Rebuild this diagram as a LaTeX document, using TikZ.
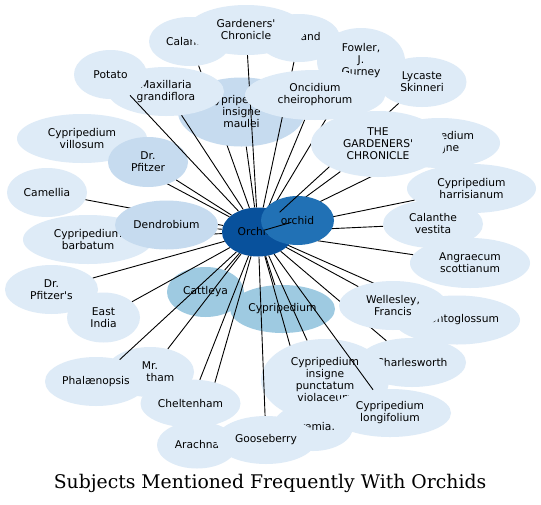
\documentclass[tikz,border=0pt]{standalone}
\usepackage{fontspec}
\setmainfont{DejaVu Sans}[Ligatures=TeXOff]
\newfontfamily\titlefont{DejaVu Serif}
\usetikzlibrary{shapes.geometric}
\definecolor{bA}{HTML}{DEEBF7}
\definecolor{bB}{HTML}{C6DBEF}
\definecolor{bC}{HTML}{9ECAE1}
\definecolor{bD}{HTML}{2171B5}
\definecolor{bE}{HTML}{08519C}
\tikzset{
  nd/.style={ellipse, inner sep=0pt, align=center, text=black,
    font=\fontsize{10.7}{12}\selectfont},
  lA/.style={nd, fill=bA},
  lB/.style={nd, fill=bB},
  lC/.style={nd, fill=bC},
  lD/.style={nd, fill=bD},
  lE/.style={nd, fill=bE},
  ghost/.style={ellipse, inner sep=0pt},
  link/.style={draw=black, line width=0.9pt},
  sz/.style 2 args={minimum width=#1pt, minimum height=#2pt}
}
\begin{document}
\begin{tikzpicture}[x=1pt,y=-1pt]
\fill[white] (0,0) rectangle (541,504);
\useasboundingbox (0,0) rectangle (541,504);

% hub
\node[lE, sz={72}{49}] (orchids) at (258,232) {Orchids};
% phantom shape of THE GARDENERS' CHRONICLE (for its connector under 'orchid')
\node[ghost, sz={134}{66}] (tgcshape) at (378,144) {};

\node[lC, sz={77}{50}] (cattleya) at (205.5,292) {Cattleya};
\draw[link] (orchids) -- (cattleya);
\node[lC, sz={105}{48}] (cyp) at (282.5,309) {Cypripedium};
\draw[link] (orchids) -- (cyp);

\node[lA, sz={80}{49}] (camellia) at (47,192.5) {Camellia};
\draw[link] (orchids) -- (camellia);
\node[lA, sz={130}{49}] (barbatum) at (88,239.5) {Cypripedium\\barbatum};
\draw[link] (orchids) -- (barbatum);
\node[lB, sz={103}{49}] (dendro) at (166.5,225) {Dendrobium};
\draw[link] (orchids) -- (dendro);

\node[lA, sz={130}{49}] (villosum) at (82,138.5) {Cypripedium\\villosum};
\draw[link] (orchids) -- (villosum);
\node[lB, sz={80}{50}] (pfitzer) at (148,162) {Dr.\\Pfitzer};
\draw[link] (orchids) -- (pfitzer);

\node[lA, sz={93}{49}] (pfitzers) at (51.5,289.5) {Dr.\\Pfitzer's};
\draw[link] (orchids) -- (pfitzers);
\node[lA, sz={73}{50}] (eastindia) at (103.5,317.5) {East\\India};
\draw[link] (orchids) -- (eastindia);

\node[lA, sz={88}{50}] (bentham) at (150,372) {Mr.\\Bentham};
\draw[link] (orchids) -- (bentham);
\node[lA, sz={102}{49}] (phal) at (96,381.5) {Phalænopsis};
\draw[link] (orchids) -- (phal);

\node[lA, sz={80}{47}] (arachna) at (197,445) {Arachna};
\draw[link] (orchids) -- (arachna);
\node[lA, sz={100}{48}] (chelt) at (190.5,403.5) {Cheltenham};
\draw[link] (orchids) -- (chelt);

\node[lA, sz={80}{48}] (jeremia) at (313,427) {Jeremia.};
\draw[link] (orchids) -- (jeremia);
\node[lA, sz={108}{49}] (charles) at (412,362.5) {Charlesworth};
\draw[link] (orchids) -- (charles);
\node[lA, sz={128}{82}] (punct) at (325,380) {Cypripedium\\insigne\\punctatum\\violaceum};
\draw[link] (orchids) -- (punct);
\node[lA, sz={122}{48}] (longi) at (390,413) {Cypripedium\\longifolium};
\draw[link] (orchids) -- (longi);
\node[lA, sz={100}{48}] (goose) at (266,440) {Gooseberry};
\draw[link] (orchids) -- (goose);

\node[lA, sz={126}{49}] (odonto) at (457,320) {Odontoglossum};
\draw[link] (orchids) -- (odonto);
\node[lA, sz={108}{49}] (wellesley) at (393,305.5) {Wellesley,\\Francis};
\draw[link] (orchids) -- (wellesley);

\node[lA, sz={82}{49}] (calanthe) at (190,41.5) {Calanthe};
\draw[link] (orchids) -- (calanthe);
\node[lB, sz={127}{69}] (maulei) at (241.5,112) {Cypripedium\\insigne\\maulei};
\draw[link] (orchids) -- (maulei);
\node[lA, sz={82}{48}] (england) at (299,38) {England};
\draw[link] (orchids) -- (england);
\node[lA, sz={88}{66}] (fowler) at (361,61) {Fowler,\\J.\\Gurney};
\draw[link] (orchids) -- (fowler);
\node[lA, sz={118}{50}] (gchron) at (246,30) {Gardeners'\\Chronicle};
\draw[link] (orchids) -- (gchron);
\node[lA, sz={116}{49}] (maxill) at (166,91.5) {Maxillaria\\grandiflora};
\draw[link] (orchids) -- (maxill);
\node[lA, sz={73}{49}] (potato) at (110.5,74.5) {Potato};
\draw[link] (orchids) -- (potato);
\node[lA, sz={140}{50}] (oncid) at (315,95) {Oncidium\\cheirophorum};
\draw[link] (orchids) -- (oncid);

\node[lA, sz={120}{50}] (angrae) at (470,263) {Angraecum\\scottianum};
\draw[link] (orchids) -- (angrae);
\node[lA, sz={100}{48}] (vestita) at (433,224) {Calanthe\\vestita};
\draw[link] (orchids) -- (vestita);
\node[lA, sz={129}{49}] (harris) at (471.5,188.5) {Cypripedium\\harrisianum};
\draw[link] (orchids) -- (harris);
\node[lA, sz={120}{50}] (insigne) at (440,143) {Cypripedium\\insigne};
\draw[link] (orchids) -- (insigne);
\draw[link] (orchids) -- (tgcshape);

\node[lD, sz={73}{49}] (orchid) at (297.5,220.5) {orchid};
\draw[link] (orchids) -- (orchid);

\node[lA, sz={89}{50}] (lycaste) at (422,82) {Lycaste\\Skinneri};
\draw[link] (orchids) -- (lycaste);
\node[lA, sz={134}{66}] (tgc) at (tgcshape) {THE\\GARDENERS'\\CHRONICLE};

\node[anchor=base, inner sep=0pt, font=\titlefont\fontsize{18.8}{22}\selectfont] (title) at (270,488) {Subjects Mentioned Frequently With Orchids};
\end{tikzpicture}
\end{document}
